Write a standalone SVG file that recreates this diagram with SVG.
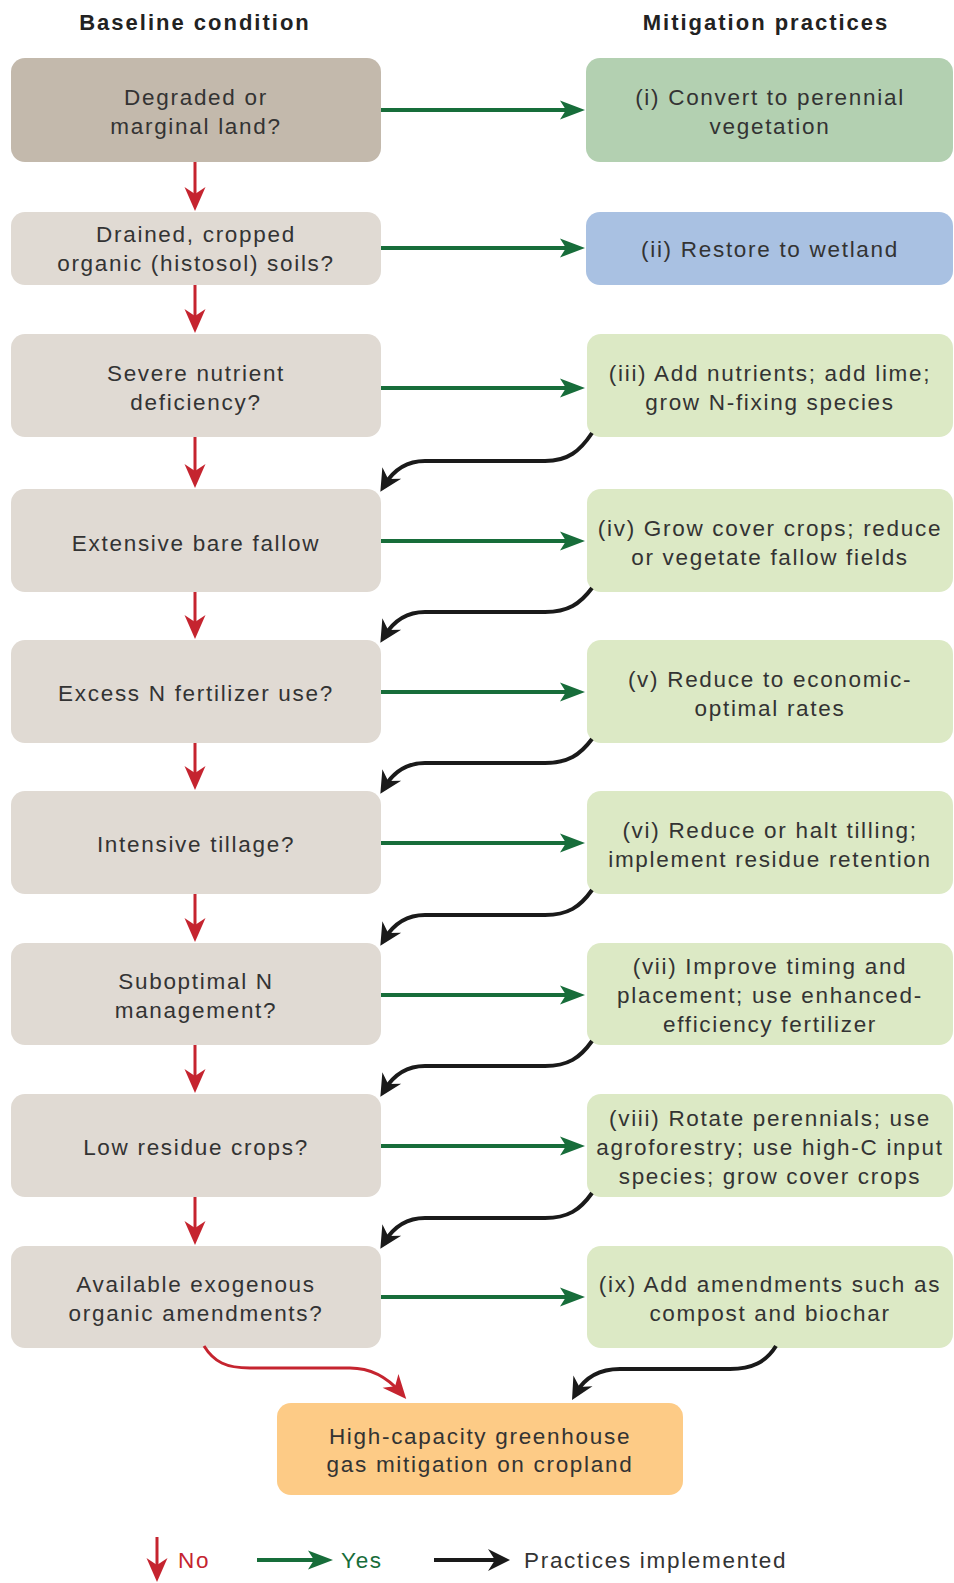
<svg xmlns="http://www.w3.org/2000/svg" width="954" height="1583" viewBox="0 0 954 1583">
<style>
text{font-family:"Liberation Sans",Arial,sans-serif;font-size:22.5px;letter-spacing:1.7px;fill:#333;}
.t{text-anchor:middle;}
.title{font-weight:bold;font-size:22px;letter-spacing:2px;fill:#222;text-anchor:middle;}
.lb{fill:#e0dad3;}
.lb1{fill:#c3b9ac;}
.rb{fill:#dce9c5;}
.rb1{fill:#b3d0b1;}
.rb2{fill:#a9c1e2;}
.bb{fill:#fdcb86;}
.no{fill:none;stroke:#c5242f;stroke-width:3;marker-end:url(#ar);}
.yes{fill:none;stroke:#176d3a;stroke-width:4;marker-end:url(#ag);}
.imp{fill:none;stroke:#1a1a1a;stroke-width:4;marker-end:url(#ak);}
</style>
<defs>
<marker id="ar" markerUnits="userSpaceOnUse" viewBox="-26 -12 28 24" markerWidth="28" markerHeight="24" refX="-8" refY="0" orient="auto" overflow="visible"><path d="M0,0 L-24,-10.5 L-17,0 L-24,10.5 Z" fill="#c5242f"/></marker>
<marker id="ag" markerUnits="userSpaceOnUse" viewBox="-27 -11 29 22" markerWidth="29" markerHeight="22" refX="-8" refY="0" orient="auto" overflow="visible"><path d="M0,0 L-25,-9.5 L-19,0 L-25,9.5 Z" fill="#176d3a"/></marker>
<marker id="ak" markerUnits="userSpaceOnUse" viewBox="-24 -12 26 24" markerWidth="26" markerHeight="24" refX="-8" refY="0" orient="auto" overflow="visible"><path d="M0,0 L-22,-11 L-15,0 L-22,11 Z" fill="#1a1a1a"/></marker>
</defs>
<rect width="954" height="1583" fill="#ffffff"/>
<text class="title" x="195" y="30">Baseline condition</text>
<text class="title" x="766" y="30">Mitigation practices</text>

<g id="L1"><rect class="lb1" x="11" y="58" width="370" height="104" rx="14"/><text class="t" x="196" y="105">Degraded or</text><text class="t" x="196" y="134">marginal land?</text></g>
<g id="L2"><rect class="lb" x="11" y="212" width="370" height="73" rx="14"/><text class="t" x="196" y="242">Drained, cropped</text><text class="t" x="196" y="271">organic (histosol) soils?</text></g>
<g id="L3"><rect class="lb" x="11" y="334" width="370" height="103" rx="14"/><text class="t" x="196" y="381">Severe nutrient</text><text class="t" x="196" y="410">deficiency?</text></g>
<g id="L4"><rect class="lb" x="11" y="489" width="370" height="103" rx="14"/><text class="t" x="196" y="551">Extensive bare fallow</text></g>
<g id="L5"><rect class="lb" x="11" y="640" width="370" height="103" rx="14"/><text class="t" x="196" y="701">Excess N fertilizer use?</text></g>
<g id="L6"><rect class="lb" x="11" y="791" width="370" height="103" rx="14"/><text class="t" x="196" y="852">Intensive tillage?</text></g>
<g id="L7"><rect class="lb" x="11" y="943" width="370" height="102" rx="14"/><text class="t" x="196" y="989">Suboptimal N</text><text class="t" x="196" y="1018">management?</text></g>
<g id="L8"><rect class="lb" x="11" y="1094" width="370" height="103" rx="14"/><text class="t" x="196" y="1155">Low residue crops?</text></g>
<g id="L9"><rect class="lb" x="11" y="1246" width="370" height="102" rx="14"/><text class="t" x="196" y="1292">Available exogenous</text><text class="t" x="196" y="1321">organic amendments?</text></g>

<g id="R1"><rect class="rb1" x="586" y="58" width="367" height="104" rx="14"/><text class="t" x="770" y="105">(i) Convert to perennial</text><text class="t" x="770" y="134">vegetation</text></g>
<g id="R2"><rect class="rb2" x="586" y="212" width="367" height="73" rx="14"/><text class="t" x="770" y="257">(ii) Restore to wetland</text></g>
<g id="R3"><rect class="rb" x="587" y="334" width="366" height="103" rx="14"/><text class="t" x="770" y="381">(iii) Add nutrients; add lime;</text><text class="t" x="770" y="410">grow N-fixing species</text></g>
<g id="R4"><rect class="rb" x="587" y="489" width="366" height="103" rx="14"/><text class="t" x="770" y="536">(iv) Grow cover crops; reduce</text><text class="t" x="770" y="565">or vegetate fallow fields</text></g>
<g id="R5"><rect class="rb" x="587" y="640" width="366" height="103" rx="14"/><text class="t" x="770" y="687">(v) Reduce to economic-</text><text class="t" x="770" y="716">optimal rates</text></g>
<g id="R6"><rect class="rb" x="587" y="791" width="366" height="103" rx="14"/><text class="t" x="770" y="838">(vi) Reduce or halt tilling;</text><text class="t" x="770" y="867">implement residue retention</text></g>
<g id="R7"><rect class="rb" x="587" y="943" width="366" height="102" rx="14"/><text class="t" x="770" y="974">(vii) Improve timing and</text><text class="t" x="770" y="1003">placement; use enhanced-</text><text class="t" x="770" y="1032">efficiency fertilizer</text></g>
<g id="R8"><rect class="rb" x="587" y="1094" width="366" height="103" rx="14"/><text class="t" x="770" y="1126">(viii) Rotate perennials; use</text><text class="t" x="770" y="1155">agroforestry; use high-C input</text><text class="t" x="770" y="1184">species; grow cover crops</text></g>
<g id="R9"><rect class="rb" x="587" y="1246" width="366" height="102" rx="14"/><text class="t" x="770" y="1292">(ix) Add amendments such as</text><text class="t" x="770" y="1321">compost and biochar</text></g>

<g id="END"><rect class="bb" x="277" y="1403" width="406" height="92" rx="14"/><text class="t" x="480" y="1444">High-capacity greenhouse</text><text class="t" x="480" y="1472">gas mitigation on cropland</text></g>

<g id="connectors">
<line class="no" x1="195" y1="162" x2="195" y2="203"/>
<line class="no" x1="195" y1="285" x2="195" y2="325"/>
<line class="no" x1="195" y1="437" x2="195" y2="480"/>
<line class="no" x1="195" y1="592" x2="195" y2="631"/>
<line class="no" x1="195" y1="743" x2="195" y2="782"/>
<line class="no" x1="195" y1="894" x2="195" y2="934"/>
<line class="no" x1="195" y1="1045" x2="195" y2="1085"/>
<line class="no" x1="195" y1="1197" x2="195" y2="1237"/>
<path class="no" d="M204,1346 C214,1362 226,1368 250,1368 L350,1368 C372,1368 388,1378 401,1393"/>

<line class="yes" x1="381" y1="110" x2="577" y2="110"/>
<line class="yes" x1="381" y1="248" x2="577" y2="248"/>
<line class="yes" x1="381" y1="388" x2="577" y2="388"/>
<line class="yes" x1="381" y1="541" x2="577" y2="541"/>
<line class="yes" x1="381" y1="692" x2="577" y2="692"/>
<line class="yes" x1="381" y1="843" x2="577" y2="843"/>
<line class="yes" x1="381" y1="995" x2="577" y2="995"/>
<line class="yes" x1="381" y1="1146" x2="577" y2="1146"/>
<line class="yes" x1="381" y1="1297" x2="577" y2="1297"/>

<path class="imp" d="M592,433 C580,451 568,461 545,461 L425,461 C406,461 393,471 384.5,485"/>
<path class="imp" d="M592,588 C580,604 568,612 545,612 L425,612 C406,612 393,622 384.5,636"/>
<path class="imp" d="M592,739 C580,755 568,763 545,763 L425,763 C406,763 393,773 384.5,787"/>
<path class="imp" d="M592,890 C580,907 568,915 545,915 L425,915 C406,915 393,925 384.5,939"/>
<path class="imp" d="M592,1041 C580,1058 568,1066 545,1066 L425,1066 C406,1066 393,1076 384.5,1090"/>
<path class="imp" d="M592,1193 C580,1210 568,1218 545,1218 L425,1218 C406,1218 393,1228 384.5,1242"/>
<path class="imp" d="M776,1346 C766,1362 752,1369 730,1369 L620,1369 C598,1369 584,1379 576,1393"/>
</g>

<g id="legend">
<line class="no" x1="157" y1="1537" x2="157" y2="1574"/>
<text x="178" y="1568" style="fill:#c5242f">No</text>
<line class="yes" x1="257" y1="1560" x2="325" y2="1560"/>
<text x="341" y="1568" style="fill:#176d3a">Yes</text>
<line class="imp" x1="434" y1="1560" x2="502" y2="1560"/>
<text x="524" y="1568">Practices implemented</text>
</g>
</svg>
